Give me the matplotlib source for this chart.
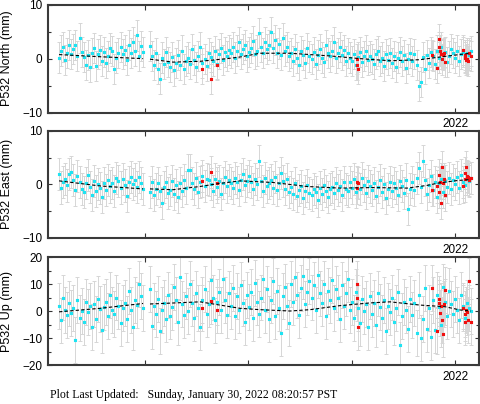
import numpy as np
import matplotlib
matplotlib.use("Agg")
import matplotlib.pyplot as plt
from matplotlib.ticker import FixedLocator, MultipleLocator

plt.rcParams['font.family'] = ['Liberation Sans', 'DejaVu Sans']

# time grid (decimal years) of the two data segments
t_seg1 = np.linspace(2018.168, 2018.981, 42)
t_seg2 = np.linspace(2019.048, 2022.155, 160)

north_seg1 = [0.2, 1.5, 2.2, -0.3, 1.0, 2.5, 0.8, 1.8, 2.6, 0.5, 3.8, 1.2, 0.3, -1.2,
              0.6, -1.5, 1.0, 2.0, -1.3, 0.8, 1.6, -0.5, 1.2, -0.8, 0.5, 2.0, 1.4, -1.9,
              0.2, 1.0, 2.2, 0.8, 1.6, -0.3, 2.6, 1.0, 3.0, 1.5, 4.3, 0.5, 2.4, 1.2]
north_seg2 = [2.3, 0.5, -1.2, 1.0, -2.0, -3.7, 0.2, -1.0, 1.2, -0.6,
              -1.5, 0.3, -2.2, -0.8, 0.6, -1.2, 1.5, -2.0, -0.4, 0.2,
              -1.0, 1.8, -0.3, -1.6, 0.5, 2.1, -0.8, 0.0, -1.3, 1.0,
              0.3, -0.5, 1.4, -1.0, 0.8, 2.0, -0.2, 1.2, 0.5, 1.6,
              1.0, 2.2, 0.2, 1.5, 3.0, 0.8, 1.8, 2.5, 0.4, 1.2,
              2.0, 3.2, 0.8, 1.5, 4.7, 2.2, 1.0, 3.0, 1.8, 2.6,
              5.0, 2.0, 3.5, 1.0, 2.8, 0.6, 3.8, 1.5, 2.2, 0.5,
              1.0, -0.5, 1.8, 0.2, -1.2, 1.4, 0.6, -0.8, 2.0, 0.4,
              0.0, 1.2, -1.0, 0.6, 1.8, 0.2, -0.6, 2.6, 1.0, 0.4,
              1.5, 3.0, 0.2, 1.0, 2.2, 0.6, 1.6, -0.4, 1.0, 0.2,
              -0.5, 0.8, -1.2, 0.3, 1.2, -0.6, 0.5, 1.5, -0.2, 0.4,
              0.0, -1.0, 0.8, 1.4, -0.5, 0.2, -1.4, 0.9, -0.3, 1.0,
              -0.8, 0.5, -1.5, 0.2, 1.2, -0.5, 0.6, -1.8, 0.0, 1.0,
              -0.4, 0.8, -1.2, -5.1, -4.3, 0.3, -2.0, 0.6, -0.8, 1.2,
              0.5, -1.0, 1.5, 0.2, 2.2, 0.8, 1.2, -0.6, 0.4, 1.8,
              1.0, 0.2, 1.5, -0.5, 0.8, 1.2, 0.3, 1.0, 0.6, 1.4]

east_seg1 = [1.9, -0.6, 0.5, 1.0, -0.2, 2.0, 2.3, 0.8, -1.0, 1.6, 0.4, -0.8, -1.5, 0.2,
             1.8, -0.5, -2.0, 0.6, -1.2, 0.0, -0.7, -2.3, 0.3, -1.0, 0.8, -0.4, 0.2, -1.3,
             1.2, 0.6, -0.6, 1.0, -0.2, -2.2, 0.5, 1.4, 0.0, 0.9, -0.5, 1.3, 0.2, -0.9]
east_seg2 = [-1.5, 0.5, -2.0, -0.8, 0.3, -1.2, -3.5, -0.5, 0.4, -1.6,
             -1.0, 0.6, -1.8, -0.2, -2.4, 0.2, -1.2, 0.8, -0.6, 2.7,
             2.6, 0.2, -0.8, 1.2, -1.5, 0.5, 1.6, -0.3, 1.0, 0.8,
             0.0, -1.2, 1.0, -0.5, 0.6, -1.8, 0.3, 1.4, -0.4, 0.8,
             0.2, -0.6, 1.2, 0.5, -1.0, 0.9, 2.0, -0.2, 0.6, 1.5,
             0.4, -0.8, 1.0, 0.0, 4.4, 0.6, -1.2, 1.2, -0.4, 0.3,
             0.8, -0.6, 1.4, -1.0, 0.2, 2.1, 0.6, -0.8, 1.0, -1.4,
             -0.5, -1.8, 0.2, -2.2, -1.0, -0.4, -2.6, -1.2, -0.2, -1.6,
             -2.0, -0.8, -1.4, -3.0, -0.6, -1.8, -0.2, -1.2, -2.4, -0.9,
             -0.5, -1.6, 0.2, -1.0, -0.3, -2.0, 0.5, -0.8, -1.2, 0.4,
             -0.6, 1.0, -1.4, 0.2, -0.8, 1.2, -0.2, -1.6, 0.6, -0.4,
             -1.0, 0.3, -2.2, -0.5, 0.8, -1.4, 0.0, -2.6, -0.8, 0.5,
             -1.2, 0.2, -0.6, -2.0, 0.6, -0.3, -1.6, 0.9, -4.6, -0.8,
             0.4, -1.0, 1.2, 3.0, -0.5, 4.4, 0.8, -1.8, -0.2, 1.5,
             -1.0, 0.5, -2.4, 0.2, 1.0, -1.4, 0.6, -0.5, 1.2, -0.8,
             0.8, 0.0, 1.4, -0.6, 1.8, 0.4, -0.2, 1.0, 0.6, 1.2]

up_seg1 = [2.0, -3.5, 5.0, 0.5, -1.5, 2.8, -0.8, 1.2, -10.7, 4.0, -2.5, 0.0, -4.0, 3.2,
           -0.5, 1.8, -6.0, 2.5, -3.0, 4.5, 0.8, -7.0, 1.5, 3.5, -2.0, 6.0, 0.3, -1.2,
           5.0, 2.0, -4.5, 1.0, 3.0, -2.8, 7.5, 0.5, -6.0, 4.0, 2.2, 10.0, 5.5, 1.0]
up_seg2 = [8.0, -5.5, 2.0, -1.0, 4.5, -7.5, 0.5, 3.0, -3.0, 6.0,
           -2.0, 1.5, 9.0, 4.0, -4.0, 12.5, 2.5, -1.5, 5.5, 0.0,
           10.0, 3.0, -2.5, 6.5, 1.0, -6.0, 4.0, 8.0, -1.0, 2.5,
           11.5, 5.0, -3.5, 3.5, 7.0, 0.5, 12.0, 4.0, -1.5, 6.5,
           2.0, 8.5, -2.0, 5.5, 0.5, 9.5, 3.0, -4.0, 6.0, 1.5,
           7.0, -2.5, 10.5, 3.5, -1.0, 5.0, 12.0, 0.5, 8.0, -3.0,
           4.0, 11.0, -2.0, 7.5, 1.0, -8.0, 5.5, 9.0, 2.0, -4.5,
           10.0, 3.5, 12.5, 6.0, -1.5, 8.5, 13.0, 2.5, 7.0, 11.0,
           5.0, 9.5, 0.5, 13.5, 6.5, 3.0, 10.0, -2.0, 7.5, 4.0,
           11.5, 1.0, 8.0, 5.0, -3.0, 9.5, 2.0, 6.5, 12.0, 0.5,
           3.5, -2.5, 7.0, 1.0, -4.5, 4.5, 0.0, 2.5, -6.0, 5.5,
           -1.0, 3.0, -5.0, 6.5, 1.5, -2.5, 4.0, -7.5, 2.0, -0.5,
           5.0, -4.0, 1.0, 7.0, -12.5, -2.0, 3.5, 0.5, -6.5, 4.5,
           -1.5, 3.0, -8.0, 6.0, -10.0, -3.0, 8.5, -6.5, 1.0, -9.5,
           4.0, -7.0, 6.0, 1.5, -5.0, 9.0, 3.5, -2.0, 7.5, 2.5,
           -1.0, 4.5, 0.5, -3.5, 6.0, 2.0, -2.5, 3.0, 1.0, 0.0]

# flagged (red) epochs
t_red = [2019.549, 2019.636, 2019.697, 2021.050, 2021.055, 2021.060, 2021.775, 2021.829,
         2021.842, 2021.848, 2021.855, 2021.865, 2021.872, 2021.881, 2021.894, 2021.903,
         2022.080, 2022.092, 2022.100, 2022.106, 2022.113, 2022.126, 2022.138, 2022.152]
north_red = [-2.0, -3.8, -1.2, 0.0, -1.2, -1.9, 0.65, -1.8, 3.6, 2.1, 1.5, 0.8,
             -0.15, 0.65, 1.0, -0.6, 1.6, 0.2, 0.65, -0.3, 0.0, -0.5, 1.1, 0.5]
east_red = [0.65, 2.3, 0.2, 0.5, -0.7, 0.2, -1.0, -0.4, 1.8, -1.5, 0.5, -3.4,
            3.2, 0.2, 1.0, -2.0, -0.4, 1.0, 2.1, 3.3, 1.5, 1.3, 0.9, 1.2]
up_red = [1.2, 3.7, 0.4, 10.0, 4.9, -5.8, 8.4, -7.4, 4.3, 3.1, -0.6, 1.9,
          -3.3, -8.6, 2.6, 7.8, 1.0, -4.0, -1.1, 0.4, -0.4, -3.3, 11.1, -4.2]

# model curves
mod_t1 = [2018.168, 2018.565, 2018.981]
mod_t2_n = [2019.048, 2019.271, 2019.532, 2019.794, 2019.919, 2020.113, 2020.403,
            2020.790, 2021.081, 2021.371, 2021.661, 2021.855, 2022.145]
north_mod1 = [0.75, 0.35, 0.0]
north_mod2 = [-0.1, -0.65, -0.5, 0.0, 0.3, 1.0, 1.0, 0.5, 0.0, -0.4, -0.2, 0.3, 1.0]
mod_t2_e = [2019.048, 2019.271, 2019.532, 2019.697, 2019.919, 2020.239, 2020.568,
            2020.887, 2021.207, 2021.536, 2021.729, 2021.855, 2022.019, 2022.145]
east_mod1 = [0.65, -0.3, -0.85]
east_mod2 = [-0.85, -1.0, -0.4, 0.1, 0.65, 0.35, -0.4, -0.7, -0.6, -0.7, -0.2, 0.3, 0.7, 0.9]
mod_t2_u = [2019.048, 2019.532, 2019.919, 2020.113, 2020.403, 2020.597, 2020.887,
            2021.177, 2021.371, 2021.661, 2021.903, 2022.048, 2022.155]
up_mod1 = [-0.3, 1.0, 2.8]
up_mod2 = [2.6, 3.4, 1.0, 0.5, 0.0, 0.5, 2.0, 3.0, 3.4, 2.2, 1.6, 0.4, 0.0]

sigmas = [2.8, 3.0, 8.5]
labels = ['P532 North (mm)', 'P532 East (mm)', 'P532 Up (mm)']
ylims = [(-10, 10), (-10, 10), (-20, 20)]
year_ticks = [2019, 2020, 2021, 2022]
year_labels = ['', '', '', '2022']

fig = plt.figure(figsize=(4.81, 4.04), dpi=100)
rects = [[0.0998, 0.7215, 0.896, 0.2668],
         [0.0998, 0.4109, 0.896, 0.2656],
         [0.0998, 0.0965, 0.896, 0.2673]]

panels = [
    (north_seg1, north_seg2, north_red, mod_t2_n, north_mod1, north_mod2),
    (east_seg1, east_seg2, east_red, mod_t2_e, east_mod1, east_mod2),
    (up_seg1, up_seg2, up_red, mod_t2_u, up_mod1, up_mod2),
]

for i, (s1, s2, red, mt2, m1, m2) in enumerate(panels):
    ax = fig.add_axes(rects[i])
    t_all = np.concatenate([t_seg1, t_seg2])
    y_all = np.concatenate([s1, s2])
    sig = sigmas[i]
    ax.errorbar(t_all, y_all, yerr=sig, fmt='none', ecolor='#d6d6d6',
                elinewidth=0.7, capsize=1.3, capthick=0.7, zorder=1)
    ax.errorbar(t_red, red, yerr=sig, fmt='none', ecolor='#d6d6d6',
                elinewidth=0.7, capsize=1.3, capthick=0.7, zorder=1)
    pts = ax.scatter(t_all, y_all, s=5.0, marker='s', color='#1ee3f2',
                     linewidths=0, zorder=3)
    pts.set_snap(False)
    rpts = ax.scatter(t_red, red, s=5.0, marker='s', color='#f01010',
                      linewidths=0, zorder=4)
    rpts.set_snap(False)
    ax.plot(mod_t1, m1, color='black', lw=0.8, dashes=(3, 2), zorder=5)
    ax.plot(mt2, m2, color='black', lw=0.8, dashes=(3, 2), zorder=5)

    ax.set_xlim(2018.061, 2022.232)
    ax.set_ylim(*ylims[i])
    ax.yaxis.set_major_locator(MultipleLocator(10))
    ax.yaxis.set_minor_locator(MultipleLocator(5))
    ax.xaxis.set_major_locator(FixedLocator(year_ticks))
    ax.set_xticklabels(year_labels)
    ax.tick_params(axis='both', which='both', direction='in', top=True, right=True,
                   color='#333333', width=0.8, labelsize=8.5, pad=4)
    ax.tick_params(axis='y', which='major', length=3)
    ax.tick_params(axis='y', which='minor', length=2.5)
    ax.tick_params(axis='x', which='major', length=3.5)
    for sp in ax.spines.values():
        sp.set_linewidth(1.5)
        sp.set_color('#3a3a3a')
    ax.set_ylabel(labels[i], fontsize=9)
    ax.yaxis.set_label_coords(-0.082, 0.5)

fig.text(0.104, 0.022, 'Plot Last Updated:   Sunday, January 30, 2022 08:20:57 PST',
         family='Liberation Serif', fontsize=8.5, va='center', ha='left')

fig.savefig('out.png', dpi=100)
